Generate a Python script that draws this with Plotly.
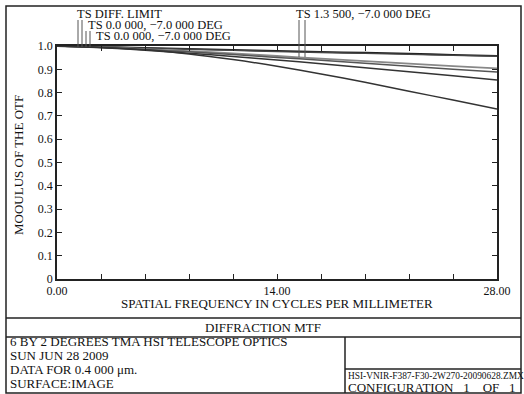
import plotly.graph_objects as go

# ---- data ----
freq = [0, 2.8, 5.6, 8.4, 11.2, 14.0, 16.8, 19.6, 22.4, 25.2, 28.0]
diff_limit = [1.0, 0.996, 0.992, 0.988, 0.983, 0.979, 0.975, 0.971, 0.967, 0.962, 0.958]
field1_ts = [1.0, 0.996, 0.991, 0.986, 0.981, 0.976, 0.972, 0.968, 0.964, 0.960, 0.956]
field2_t = [1.0, 0.995, 0.987, 0.978, 0.968, 0.957, 0.946, 0.935, 0.924, 0.914, 0.904]
field2_s = [1.0, 0.994, 0.985, 0.975, 0.963, 0.951, 0.939, 0.926, 0.913, 0.900, 0.888]
field3_t = [1.0, 0.993, 0.982, 0.969, 0.955, 0.940, 0.924, 0.907, 0.890, 0.872, 0.854]
field3_s = [1.0, 0.995, 0.984, 0.966, 0.942, 0.913, 0.880, 0.844, 0.806, 0.768, 0.730]

series = [
    ("TS DIFF. LIMIT", diff_limit, "#222222", 1.8),
    ("TS 0.0 000, -7.0 000 DEG", field1_ts, "#444444", 1.3),
    ("TS 0.0 000, -7.0 000 DEG T", field2_t, "#888888", 1.8),
    ("TS 0.0 000, -7.0 000 DEG S", field2_s, "#555555", 1.5),
    ("TS 1.3 500, -7.0 000 DEG T", field3_t, "#333333", 1.5),
    ("TS 1.3 500, -7.0 000 DEG S", field3_s, "#333333", 1.5),
]

x_tickvals = freq
x_ticktext = ["0.00", "", "", "", "", "14.00", "", "", "", "", "28.00"]
y_tickvals = [0, 0.1, 0.2, 0.3, 0.4, 0.5, 0.6, 0.7, 0.8, 0.9, 1.0]
y_ticktext = ["0", "0.1", "0.2", "0.3", "0.4", "0.5", "0.6", "0.7", "0.8", "0.9", "1.0"]

W, H = 524, 394
L, R, T, B = 57, 497, 46, 279  # plot area pixels
FONT = "Liberation Serif"

def px(x):
    return (x - L) / (R - L)

def py(y):
    return (B - y) / (B - T)

fig = go.Figure()
for name, vals, col, w in series:
    fig.add_trace(go.Scatter(x=freq, y=vals, mode="lines", name=name,
                             line=dict(color=col, width=w, shape="spline", smoothing=0.8),
                             showlegend=False))

shapes = []
line_k = dict(color="#222222", width=1.5)
# outer frame
shapes.append(dict(type="rect", xref="paper", yref="paper",
                   x0=px(6), x1=px(521), y0=py(393), y1=py(6), line=line_k))
# table lines
shapes.append(dict(type="line", xref="paper", yref="paper",
                   x0=px(6), x1=px(521), y0=py(318), y1=py(318), line=line_k))
shapes.append(dict(type="line", xref="paper", yref="paper",
                   x0=px(6), x1=px(521), y0=py(337), y1=py(337), line=line_k))
shapes.append(dict(type="line", xref="paper", yref="paper",
                   x0=px(345), x1=px(345), y0=py(337), y1=py(393), line=line_k))
shapes.append(dict(type="line", xref="paper", yref="paper",
                   x0=px(345), x1=px(521), y0=py(369), y1=py(369), line=line_k))
# leader lines
lead = dict(color="#555555", width=1)
for xx, ytop in [(78, 20), (82, 20), (86, 31), (90, 31)]:
    shapes.append(dict(type="line", xref="paper", yref="paper",
                       x0=px(xx), x1=px(xx), y0=py(ytop), y1=py(47), line=lead))
for xx in [299, 305]:
    shapes.append(dict(type="line", xref="paper", yref="paper",
                       x0=px(xx), x1=px(xx), y0=py(20), y1=py(57), line=lead))

ann = []
def txt(x, y, s, size=13, xanchor="left", yanchor="middle", **kw):
    ann.append(dict(x=px(x), y=py(y), xref="paper", yref="paper", text=s,
                    showarrow=False, xanchor=xanchor, yanchor=yanchor,
                    font=dict(family=FONT, size=size, color="#111111"), **kw))

txt(75, 14, "TS DIFF. LIMIT", size=12.5)
txt(86, 25, "TS 0.0 000, \u22127.0 000 DEG", size=12.5)
txt(94, 36, "TS 0.0 000, \u22127.0 000 DEG", size=12.5)
txt(294, 14, "TS 1.3 500, \u22127.0 000 DEG", size=12.5)
txt(277, 303, "SPATIAL FREQUENCY IN CYCLES PER MILLIMETER", xanchor="center")
txt(263, 327, "DIFFRACTION MTF", xanchor="center")
txt(8, 341, "6 BY 2 DEGREES TMA HSI TELESCOPE OPTICS")
txt(8, 355, "SUN JUN 28 2009")
txt(8, 369, "DATA FOR 0.4 000 \u03bcm.")
txt(8, 383, "SURFACE:IMAGE")
txt(346, 376, "HSI-VNIR-F387-F30-2W270-20090628.ZMX", size=9.4)
txt(346, 387, "CONFIGURATION&nbsp;&nbsp;&nbsp;1&nbsp;&nbsp;&nbsp;&nbsp;OF&nbsp;&nbsp;&nbsp;1", size=13)
ann.append(dict(x=px(18), y=py(165), xref="paper", yref="paper",
                text="MOOULUS OF THE OTF", textangle=-90, showarrow=False,
                xanchor="center", yanchor="middle",
                font=dict(family=FONT, size=13, color="#111111")))

fig.update_layout(
    width=W, height=H,
    margin=dict(l=L, r=W - R, t=T, b=H - B, pad=0),
    paper_bgcolor="white", plot_bgcolor="white",
    font=dict(family=FONT, size=12, color="#111111"),
    shapes=shapes, annotations=ann,
    xaxis=dict(range=[0, 28], tickvals=x_tickvals, ticktext=x_ticktext,
               ticks="inside", ticklen=5, tickcolor="#222", tickwidth=1,
               showline=True, linecolor="#222", linewidth=1.5, mirror="ticks",
               showgrid=False, zeroline=False,
               tickfont=dict(family=FONT, size=12)),
    yaxis=dict(range=[0, 1], tickvals=y_tickvals, ticktext=y_ticktext,
               ticks="inside", ticklen=5, tickcolor="#222", tickwidth=1,
               showline=True, linecolor="#222", linewidth=1.5, mirror="ticks",
               showgrid=False, zeroline=False,
               tickfont=dict(family=FONT, size=12)),
)

fig.write_html("out.html", config={"displayModeBar": False},
               post_script="document.body.style.margin='0';document.body.style.overflow='hidden';")
